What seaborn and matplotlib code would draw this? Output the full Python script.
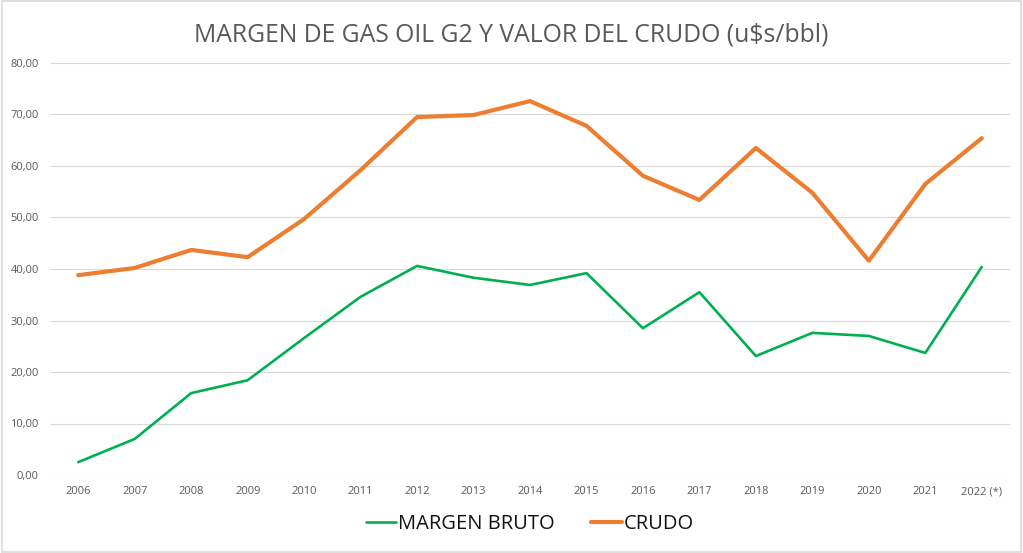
import pandas as pd
import numpy as np
import matplotlib
matplotlib.use("Agg")
import matplotlib.pyplot as plt
import seaborn as sns

years = ["2006", "2007", "2008", "2009", "2010", "2011", "2012", "2013", "2014",
         "2015", "2016", "2017", "2018", "2019", "2020", "2021", "2022 (*)"]
margen_bruto = [2.5, 7.0, 15.9, 18.4, 26.6, 34.6, 40.6, 38.3, 36.9,
                39.2, 28.5, 35.5, 23.1, 27.6, 27.0, 23.7, 40.4]
crudo = [38.8, 40.2, 43.7, 42.3, 49.7, 59.2, 69.5, 69.9, 72.6,
         67.8, 58.1, 53.4, 63.5, 54.8, 41.6, 56.5, 65.4]

df = pd.DataFrame({"pos": range(len(years)), "anio": years,
                   "MARGEN BRUTO": margen_bruto, "CRUDO": crudo})

sns.set_style("white")
plt.rcParams["font.family"] = ["Open Sans", "DejaVu Sans"]

fig = plt.figure(figsize=(10.23, 5.53), dpi=100)
ax = fig.add_axes([50 / 1023, 1 - 475 / 553, 960 / 1023, 412 / 553])

sns.lineplot(data=df, x="pos", y="MARGEN BRUTO", color="#00B050", linewidth=1.9,
             label="MARGEN BRUTO", ax=ax)
sns.lineplot(data=df, x="pos", y="CRUDO", color="#ED7D31", linewidth=3.0,
             label="CRUDO", ax=ax)

ax.set_xlim(-0.5, len(years) - 0.5)
ax.set_ylim(0, 80)
ax.set_yticks(np.arange(0, 81, 10))
ax.set_yticklabels([f"{v:.2f}".replace(".", ",") for v in np.arange(0, 81, 10)])
ax.set_xticks(df["pos"])
ax.set_xticklabels(df["anio"])
ax.tick_params(axis="both", labelsize=8, colors="#595959", length=0, pad=8)
ax.grid(axis="y", color="#D9D9D9", linewidth=0.8)
ax.set_axisbelow(True)
for s in ax.spines.values():
    s.set_visible(False)
ax.set_xlabel("")
ax.set_ylabel("")

fig.text(0.5, 1 - 35 / 553, "MARGEN DE GAS OIL G2 Y VALOR DEL CRUDO (u$s/bbl)",
         ha="center", va="center", fontsize=17.8, color="#595959")

leg = ax.legend(loc="center", bbox_to_anchor=(0.5, (475 - 524) / 412), ncol=2,
                frameon=False, fontsize=14.5, handlelength=1.5, handletextpad=0.1,
                columnspacing=1.8)
for t in leg.get_texts():
    t.set_color("#111111")

border = plt.Rectangle((0.002, 0.002), 0.996, 0.996, transform=fig.transFigure,
                       fill=False, edgecolor="#D9D9D9", linewidth=1.2)
fig.patches.append(border)

fig.savefig("out.png", dpi=100)
